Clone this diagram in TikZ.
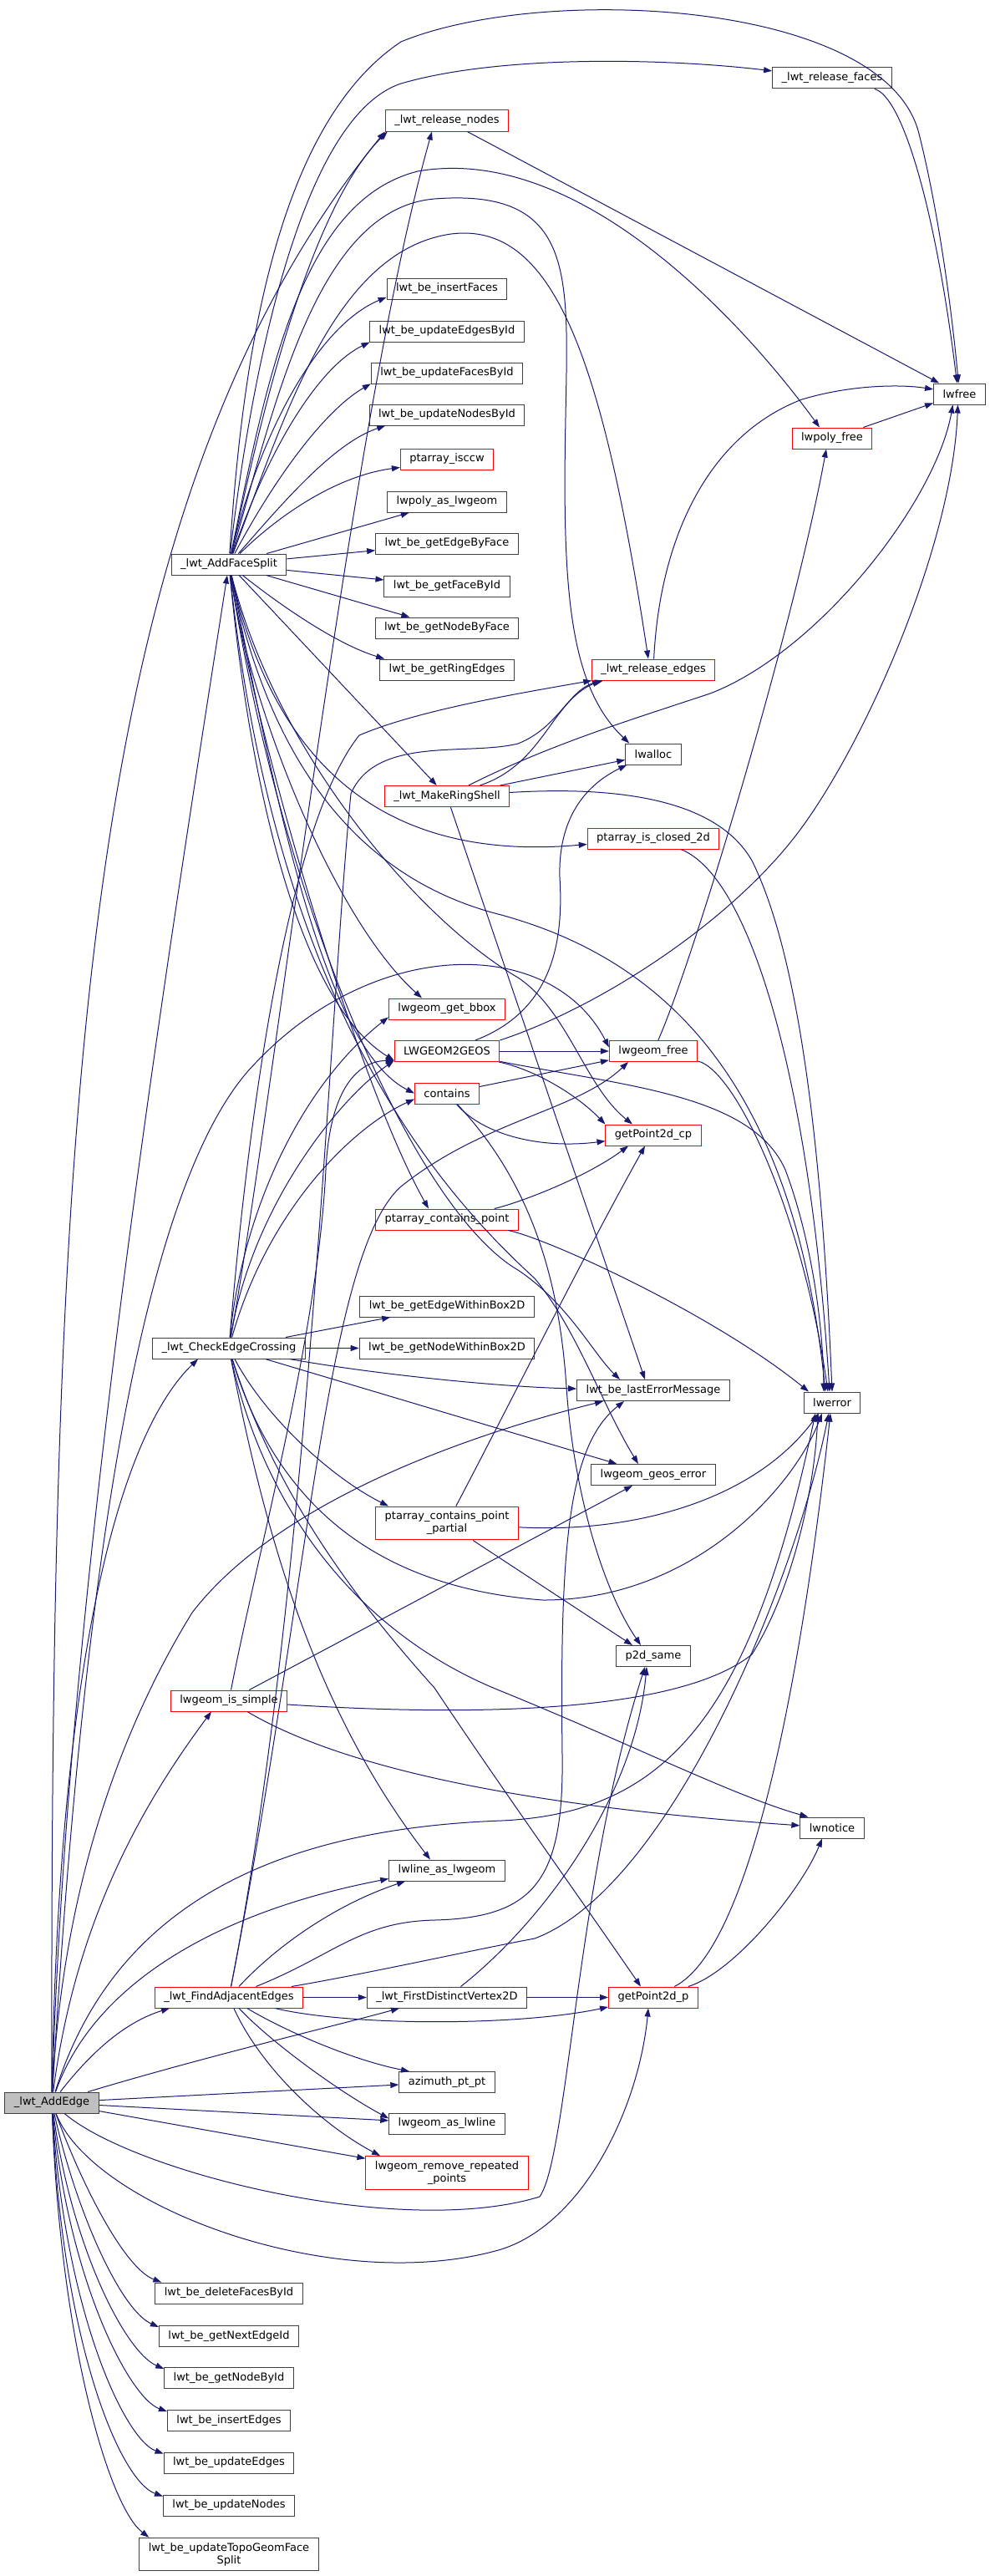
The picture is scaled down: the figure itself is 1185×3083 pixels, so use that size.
\documentclass[tikz,border=0pt]{standalone}
\usepackage{fontspec}
\usetikzlibrary{arrows.meta}
\newfontfamily\dotfont{DejaVu Sans}
\definecolor{edgeblue}{HTML}{191970}
\definecolor{boxline}{HTML}{404040}
\definecolor{rootgray}{HTML}{BFBFBF}

\begin{document}
\begin{tikzpicture}[x=1pt, y=-1pt,
    fn/.style={rectangle, draw=boxline, line width=1pt, inner xsep=11pt, inner ysep=6pt,
      minimum height=25pt, align=center, font=\dotfont\fontsize{13}{15}\selectfont},
    trunc/.style={fn, draw=red},
    calls/.style={draw=edgeblue, line width=1pt, -{Triangle[length=10pt, width=7pt]}}]
\fill[white] (0,0) rectangle (1185,3083);
\useasboundingbox (0,0) rectangle (1185,3083);

% Nodes
\node (relFaces) [fn] at (996,93.5) {\_lwt\_release\_faces};
\node (relNodes) [trunc] at (535,144.5) {\_lwt\_release\_nodes};
\node (insFaces) [fn] at (535,345.5) {lwt\_be\_insertFaces};
\node (updEdgesId) [fn] at (535,396.5) {lwt\_be\_updateEdgesById};
\node (updFacesId) [fn] at (535,446.5) {lwt\_be\_updateFacesById};
\node (updNodesId) [fn] at (535,496.5) {lwt\_be\_updateNodesById};
\node (lwfree) [fn] at (1148.5,471.5) {lwfree};
\node (polyFree) [trunc] at (996,524.5) {lwpoly\_free};
\node (isccw) [trunc] at (535,549.5) {ptarray\_isccw};
\node (polyAsGeom) [fn] at (535,600.5) {lwpoly\_as\_lwgeom};
\node (edgeByFace) [fn] at (535,650.5) {lwt\_be\_getEdgeByFace};
\node (faceById) [fn] at (535,701.5) {lwt\_be\_getFaceById};
\node (nodeByFace) [fn] at (535,751.5) {lwt\_be\_getNodeByFace};
\node (ringEdges) [fn] at (535,801.5) {lwt\_be\_getRingEdges};
\node (addFaceSplit) [fn] at (274,675.5) {\_lwt\_AddFaceSplit};
\node (relEdges) [trunc] at (782,801.5) {\_lwt\_release\_edges};
\node (lwalloc) [fn] at (782,902.5) {lwalloc};
\node (ringShell) [trunc] at (535,953) {\_lwt\_MakeRingShell};
\node (closed2d) [trunc] at (782,1003.5) {ptarray\_is\_closed\_2d};
\node (getBbox) [trunc] at (535,1207.5) {lwgeom\_get\_bbox};
\node (geos) [trunc] at (535,1258) {LWGEOM2GEOS};
\node (geomFree) [trunc] at (782,1258) {lwgeom\_free};
\node (contains) [trunc] at (535,1308.5) {contains};
\node (cp) [trunc] at (782,1358.5) {getPoint2d\_cp};
\node (ptContains) [trunc] at (535,1459.5) {ptarray\_contains\_point};
\node (edgeWithin) [fn] at (535,1563.5) {lwt\_be\_getEdgeWithinBox2D};
\node (checkCross) [fn] at (274,1613.5) {\_lwt\_CheckEdgeCrossing};
\node (nodeWithin) [fn] at (535,1613.5) {lwt\_be\_getNodeWithinBox2D};
\node (lastErr) [fn] at (782,1664) {lwt\_be\_lastErrorMessage};
\node (lwerror) [fn] at (996,1678.5) {lwerror};
\node (geosErr) [fn] at (782,1765) {lwgeom\_geos\_error};
\node (ptPartial) [trunc] at (535,1823) {ptarray\_contains\_point\\\_partial};
\node (p2dSame) [fn] at (782,1982) {p2d\_same};
\node (isSimple) [trunc] at (274,2035.5) {lwgeom\_is\_simple};
\node (lwnotice) [fn] at (996,2187.5) {lwnotice};
\node (lineAsGeom) [fn] at (535,2238.5) {lwline\_as\_lwgeom};
\node (findAdj) [trunc] at (274,2390.5) {\_lwt\_FindAdjacentEdges};
\node (firstVertex) [fn] at (535,2390.5) {\_lwt\_FirstDistinctVertex2D};
\node (gp) [trunc] at (782,2390.5) {getPoint2d\_p};
\node (azimuth) [fn] at (535,2492) {azimuth\_pt\_pt};
\node (addEdge) [fn, fill=rootgray] at (62,2516.5) {\_lwt\_AddEdge};
\node (geomAsLine) [fn] at (535,2541.5) {lwgeom\_as\_lwline};
\node (removeRep) [trunc] at (535,2600.5) {lwgeom\_remove\_repeated\\\_points};
\node (deleteFaces) [fn] at (274,2744.5) {lwt\_be\_deleteFacesById};
\node (nextEdgeId) [fn] at (274,2796) {lwt\_be\_getNextEdgeId};
\node (nodeById) [fn] at (274,2846) {lwt\_be\_getNodeById};
\node (insEdges) [fn] at (274,2897) {lwt\_be\_insertEdges};
\node (updEdges) [fn] at (274,2947.5) {lwt\_be\_updateEdges};
\node (updNodes) [fn] at (274,2998.5) {lwt\_be\_updateNodes};
\node (topoFace) [fn] at (274,3057) {lwt\_be\_updateTopoGeomFace\\Split};

% Arrows from _lwt_AddEdge
\draw[calls] (addEdge) .. controls (80,1900) and (200,1150) .. (addFaceSplit);
\draw[calls] (addEdge) .. controls (60,1300) and (100,600) .. (relNodes.south west);
\draw[calls] (addEdge) .. controls (95,1950) and (160,1420) .. (306,1272) .. controls (450,1120) and (660,1120) .. (geomFree.175);
\draw[calls] (addEdge) .. controls (70,2000) and (140,1720) .. ([xshift=-37]checkCross.south);
\draw[calls] (addEdge) .. controls (75,2250) and (150,2060) .. (230,1930) .. controls (330,1800) and (550,1720) .. ([xshift=-60]lastErr.south);
\draw[calls] (addEdge) .. controls (90,2300) and (170,2160) .. ([xshift=-21]isSimple.south);
\draw[calls] (addEdge) .. controls (110,2455) and (150,2420) .. ([xshift=-71]findAdj.south);
\draw[calls] (addEdge) .. controls (110,2380) and (250,2290) .. ([yshift=3]lineAsGeom.south west);
\draw[calls] (addEdge) .. controls (130,2300) and (300,2190) .. (600,2179) .. controls (800,2170) and (900,2050) .. ([xshift=-20]lwerror.south);
\draw[calls] (addEdge) .. controls (250,2460) and (400,2425) .. ([xshift=-57]firstVertex.south);
\draw[calls] (addEdge) -- (azimuth);
\draw[calls] (addEdge) -- (geomAsLine);
\draw[calls] (addEdge) -- (removeRep);
\draw[calls] (addEdge) .. controls (160,2600) and (480,2680) .. (646,2629) .. controls (680,2580) and (690,2250) .. ([xshift=-10]p2dSame.south);
\draw[calls] (addEdge) .. controls (110,2640) and (400,2750) .. (600,2692) .. controls (700,2660) and (765,2520) .. ([xshift=-6]gp.south);
\draw[calls] (addEdge) .. controls (100,2620) and (150,2715) .. ([xshift=8]deleteFaces.north west);
\draw[calls] (addEdge) .. controls (92,2650) and (145,2765) .. ([yshift=-2]nextEdgeId.north west);
\draw[calls] (addEdge) .. controls (86,2690) and (150,2815) .. ([yshift=-2]nodeById.north west);
\draw[calls] (addEdge) .. controls (82,2730) and (155,2870) .. ([yshift=-2]insEdges.north west);
\draw[calls] (addEdge) .. controls (78,2770) and (150,2920) .. ([yshift=-2]updEdges.north west);
\draw[calls] (addEdge) .. controls (75,2810) and (145,2970) .. ([yshift=-2]updNodes.north west);
\draw[calls] (addEdge) .. controls (72,2800) and (130,3000) .. ([xshift=12]topoFace.north west);

% Arrows from _lwt_AddFaceSplit
\draw[calls] (addFaceSplit) .. controls (300,450) and (360,140) .. (480,100) .. controls (600,65) and (800,70) .. (relFaces);
\draw[calls] (addFaceSplit) .. controls (290,430) and (330,150) .. (480,50) .. controls (650,-20) and (1060,0) .. (1100,160) .. controls (1125,260) and (1140,380) .. (lwfree);
\draw[calls] (addFaceSplit) .. controls (300,560) and (360,260) .. ([xshift=3]relNodes.south west);
\draw[calls] (addFaceSplit) .. controls (320,450) and (360,240) .. (500,205) .. controls (700,170) and (900,400) .. ([xshift=-15]polyFree.north);
\draw[calls] (addFaceSplit) .. controls (330,480) and (380,250) .. (520,238) .. controls (690,225) and (680,330) .. (677,500) .. controls (673,700) and (680,820) .. ([xshift=5]lwalloc.north west);
\draw[calls] (addFaceSplit) .. controls (340,500) and (400,300) .. (540,280) .. controls (660,265) and (720,420) .. ([xshift=-6]relEdges.north);
\draw[calls] (addFaceSplit) .. controls (310,520) and (380,390) .. (insFaces.-172);
\draw[calls] (addFaceSplit) .. controls (320,540) and (380,440) .. (updEdgesId.-172);
\draw[calls] (addFaceSplit) .. controls (330,570) and (390,490) .. (updFacesId.-172);
\draw[calls] (addFaceSplit) .. controls (340,600) and (400,530) .. (updNodesId.-170);
\draw[calls] (addFaceSplit) .. controls (330,620) and (400,570) .. (isccw.-170);
\draw[calls] (addFaceSplit) -- (polyAsGeom);
\draw[calls] (addFaceSplit) -- (edgeByFace);
\draw[calls] (addFaceSplit) -- (faceById);
\draw[calls] (addFaceSplit) -- (nodeByFace);
\draw[calls] (addFaceSplit) .. controls (330,720) and (400,770) .. ([xshift=6]ringEdges.north west);
\draw[calls] (addFaceSplit) -- (ringShell);
\draw[calls] (addFaceSplit) .. controls (320,880) and (430,1035) .. (closed2d.-175);
\draw[calls] (addFaceSplit) .. controls (300,850) and (400,1100) .. ([xshift=-30]getBbox.north);
\draw[calls] (addFaceSplit) .. controls (300,950) and (360,1200) .. (geos.-170);
\draw[calls] (addFaceSplit) .. controls (320,900) and (380,1250) .. (contains.west);
\draw[calls] (addFaceSplit) .. controls (310,900) and (430,1300) .. ([xshift=-22]ptContains.north);
\draw[calls] (addFaceSplit) .. controls (330,900) and (500,1100) .. (620,1170) .. controls (680,1210) and (700,1300) .. ([xshift=-25]cp.north);
\draw[calls] (addFaceSplit) .. controls (340,1100) and (500,1450) .. (620,1520) .. controls (680,1560) and (710,1620) .. ([xshift=-40]lastErr.north);
\draw[calls] (addFaceSplit) .. controls (320,900) and (420,1050) .. (600,1095) .. controls (800,1150) and (950,1300) .. ([xshift=-8]lwerror.north);
\draw[calls] (addFaceSplit) .. controls (330,1200) and (520,1420) .. (640,1530) .. controls (690,1590) and (720,1680) .. ([xshift=-18]geosErr.north);

% Arrows from _lwt_CheckEdgeCrossing
\draw[calls] (checkCross) .. controls (330,1300) and (420,500) .. ([xshift=-18]relNodes.south);
\draw[calls] (checkCross) -- (edgeWithin);
\draw[calls] (checkCross) -- (nodeWithin);
\draw[calls] (checkCross) .. controls (450,1645) and (600,1660) .. (lastErr);
\draw[calls] (checkCross) -- (geosErr);
\draw[calls] (checkCross) .. controls (320,1700) and (400,1770) .. ([xshift=-70]ptPartial.north);
\draw[calls] (checkCross) .. controls (330,1800) and (450,1900) .. (650,1915) .. controls (830,1915) and (950,1780) .. ([xshift=-12]lwerror.south);
\draw[calls] (checkCross) .. controls (320,1820) and (440,1960) .. (600,2024) .. controls (750,2085) and (880,2150) .. ([xshift=10]lwnotice.north west);
\draw[calls] (checkCross) .. controls (330,1790) and (430,1920) .. (520,2020) .. controls (600,2140) and (700,2280) .. ([xshift=-15]gp.north);
\draw[calls] (checkCross) .. controls (320,1850) and (380,2050) .. ([xshift=-20]lineAsGeom.north);
\draw[calls] (checkCross) .. controls (300,1300) and (350,980) .. (430,880) .. controls (500,850) and (620,830) .. (relEdges.-170);
\draw[calls] (checkCross) .. controls (290,1450) and (360,1300) .. (getBbox.-172);
\draw[calls] (checkCross) .. controls (300,1450) and (400,1320) .. (geos.-170);
\draw[calls] (checkCross) .. controls (320,1450) and (420,1350) .. (contains.-170);

% Arrows from _lwt_FindAdjacentEdges
\draw[calls] (findAdj) .. controls (370,1900) and (395,1200) .. (420,950) .. controls (450,880) and (560,905) .. (620,890) .. controls (670,870) and (680,825) .. ([xshift=-60]relEdges.south);
\draw[calls] (findAdj) .. controls (370,1900) and (390,1500) .. (480,1420) .. controls (580,1340) and (690,1330) .. ([xshift=-30]geomFree.south);
\draw[calls] (findAdj) .. controls (330,2330) and (400,2280) .. ([xshift=-50]lineAsGeom.south);
\draw[calls] (findAdj) .. controls (450,2360) and (560,2335) .. (640,2320) .. controls (800,2260) and (950,1900) .. ([xshift=-4]lwerror.south);
\draw[calls] (findAdj) .. controls (400,2340) and (430,2300) .. (520,2298) .. controls (640,2295) and (675,2250) .. (673,2100) .. controls (670,1850) and (680,1730) .. ([xshift=-35]lastErr.south);
\draw[calls] (findAdj) -- (firstVertex);
\draw[calls] (findAdj) .. controls (420,2425) and (620,2425) .. (gp);
\draw[calls] (findAdj) .. controls (340,2430) and (420,2465) .. ([xshift=-45]azimuth.north);
\draw[calls] (findAdj) .. controls (320,2440) and (400,2500) .. (geomAsLine.175);
\draw[calls] (findAdj) .. controls (310,2470) and (380,2540) .. ([xshift=-80]removeRep.north);

% Arrows from lwgeom_is_simple
\draw[calls] (isSimple) .. controls (310,1850) and (380,1600) .. (390,1400) .. controls (395,1300) and (430,1270) .. (geos.-170);
\draw[calls] (isSimple) -- ([xshift=-25]geosErr.south);
\draw[calls] (isSimple) .. controls (500,2050) and (800,2060) .. (900,1980) .. controls (950,1900) and (975,1780) .. ([xshift=-17]lwerror.south);
\draw[calls] (isSimple) .. controls (400,2110) and (600,2160) .. (lwnotice);

% Arrows from the other callees
\draw[calls] (firstVertex) -- (gp);
\draw[calls] (firstVertex) .. controls (650,2300) and (760,2150) .. ([xshift=-8]p2dSame.south);
\draw[calls] (gp) .. controls (880,2360) and (960,2260) .. ([xshift=-12]lwnotice.south);
\draw[calls] (gp) .. controls (900,2330) and (960,2000) .. ([xshift=-2]lwerror.south);
\draw[calls] (ptPartial) .. controls (750,1835) and (900,1800) .. ([xshift=-16]lwerror.south);
\draw[calls] (ptPartial) -- ([xshift=-25]p2dSame.north);
\draw[calls] (ptPartial) .. controls (600,1700) and (700,1500) .. ([xshift=-10]cp.south);
\draw[calls] (ptContains) .. controls (620,1440) and (700,1410) .. ([xshift=-30]cp.south);
\draw[calls] (ptContains) .. controls (650,1480) and (850,1570) .. ([xshift=-28]lwerror.north);
\draw[calls] (contains) -- (geomFree);
\draw[calls] (contains) .. controls (580,1360) and (650,1375) .. (cp);
\draw[calls] (contains) .. controls (640,1420) and (670,1540) .. (678,1660) .. controls (686,1780) and (720,1900) .. ([xshift=-15]p2dSame.north);
\draw[calls] (geos) -- (geomFree);
\draw[calls] (geos.north east) .. controls (720,1205) and (880,1100) .. (960,990) .. controls (1040,880) and (1140,650) .. ([xshift=-2]lwfree.south);
\draw[calls] (geos) .. controls (640,1280) and (690,1310) .. (cp.north west);
\draw[calls] (geos) .. controls (750,1300) and (900,1310) .. (940,1400) .. controls (970,1480) and (985,1580) .. ([xshift=-10]lwerror.north);
\draw[calls] (geos) .. controls (660,1210) and (675,1130) .. (670,1050) .. controls (668,980) and (700,940) .. ([xshift=2]lwalloc.south west);
\draw[calls] (geomFree) .. controls (830,1150) and (950,750) .. ([xshift=-7]polyFree.south);
\draw[calls] (geomFree) .. controls (880,1280) and (960,1450) .. ([xshift=-5]lwerror.north);
\draw[calls] (closed2d) .. controls (900,1050) and (970,1300) .. ([xshift=-3]lwerror.north);
\draw[calls] (ringShell) .. controls (650,915) and (660,840) .. ([xshift=-63]relEdges.south);
\draw[calls] (ringShell) -- (lwalloc);
\draw[calls] (ringShell) .. controls (660,890) and (760,860) .. (850,830) .. controls (980,780) and (1120,600) .. ([xshift=-8]lwfree.south);
\draw[calls] (ringShell) -- ([xshift=-10]lastErr.north);
\draw[calls] (ringShell) .. controls (750,940) and (860,960) .. (900,1030) .. controls (960,1150) and (985,1400) .. (lwerror.north);
\draw[calls] (relNodes) -- (lwfree);
\draw[calls] (relFaces) .. controls (1080,115) and (1120,250) .. ([xshift=-3]lwfree.north);
\draw[calls] (relEdges) .. controls (790,640) and (850,520) .. (960,478) .. controls (1020,460) and (1080,460) .. (lwfree.170);
\draw[calls] (polyFree) -- (lwfree);
\end{tikzpicture}
\end{document}
